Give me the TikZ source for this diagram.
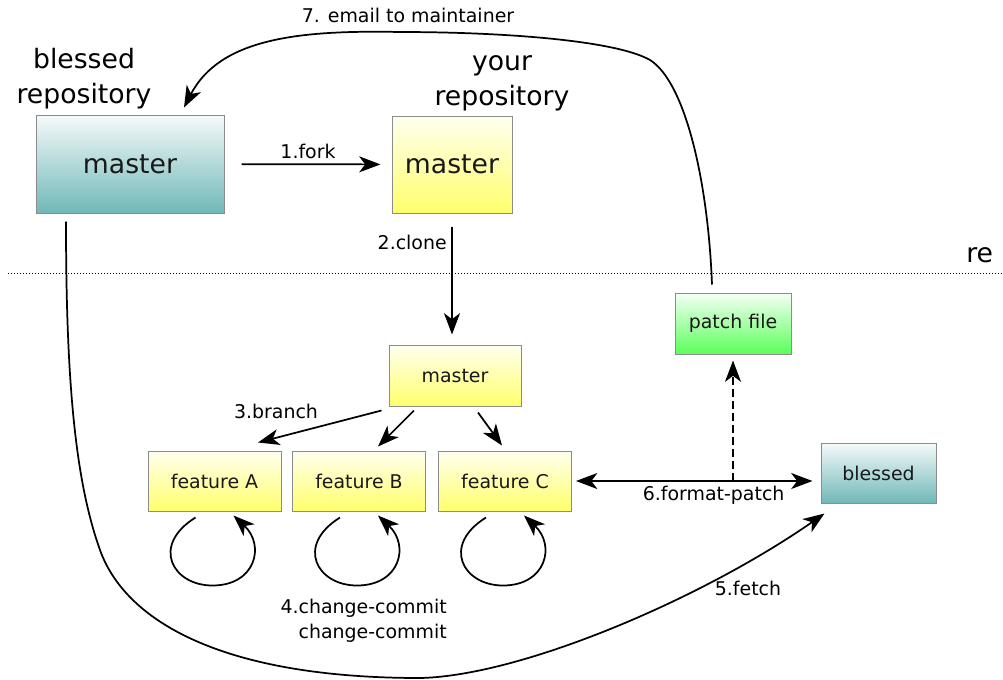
\documentclass[tikz,border=0pt]{standalone}
\usepackage{fontspec}
\setmainfont{DejaVu Sans}
\usetikzlibrary{arrows.meta}

\begin{document}
\begin{tikzpicture}[x=0.75pt,y=-0.75pt,
    big/.style={font=\fontsize{20}{26.25}\selectfont},
    small/.style={font=\fontsize{14.2}{18.75}\selectfont},
    box/.style={draw=black!45,line width=0.75pt,inner sep=0pt,text=black!90},
    teal/.style={box,top color=white!96!teal,bottom color=teal!56},
    yell/.style={box,top color=yellow!6,bottom color=yellow!58},
    green/.style={box,top color=green!4,bottom color=green!65},
    arr/.style={line width=1.3pt,-{Stealth[length=16pt,width=12pt,inset=4.5pt]}},
    arrs/.style={line width=1.3pt,{Stealth[length=16pt,width=12pt,inset=4.5pt]}-{Stealth[length=16pt,width=12pt,inset=4.5pt]}}]
    \useasboundingbox (0,0) rectangle (1003,679);

    % 绘制分隔线
    \draw[line width=0.75pt,dash pattern=on 0.75pt off 1.5pt] (8,273) -- (1003,273);
    \node[big,anchor=base west,inner sep=0pt] (re) at (966,262) {re};

    % 绘制两个仓库
    \node[big,align=center] (blessedlbl) at (84,79) {blessed\\repository};
    \node[big,align=center] (yourlbl) at (502,83) {your\\repository};
    \node[teal,big,minimum width=141pt,minimum height=73.5pt] (bmaster) at (130,164) {master};
    \node[yell,big,minimum width=90pt,minimum height=72.75pt] (ymaster) at (452,164.5) {master};

    % 绘制本地分支
    \node[yell,small,minimum width=99pt,minimum height=45.75pt] (lmaster) at (455,375.5) {master};
    \node[yell,small,minimum width=99.75pt,minimum height=45pt] (featA) at (214.5,481) {feature A};
    \node[yell,small,minimum width=99.75pt,minimum height=45pt] (featB) at (359,481) {feature B};
    \node[yell,small,minimum width=99.75pt,minimum height=45pt] (featC) at (505,481) {feature C};
    \node[green,small,minimum width=87pt,minimum height=45.75pt] (patch) at (733,323.5) {patch file};
    \node[teal,small,minimum width=86.25pt,minimum height=45pt] (rblessed) at (878.5,473) {blessed};

    % 1. fork 和 2. clone
    \draw[arr,shorten <=12.75pt,shorten >=8.25pt] (bmaster) -- node[small,above] (fork) {1.fork} (ymaster);
    \draw[arr,shorten <=9.75pt,shorten >=7.5pt] (ymaster.south) -- node[small,pos=0.22,left] (clone) {2.clone} (ymaster.south |- lmaster.north);

    % 3. branch
    \draw[arr] ([shift={(-7,4)}]lmaster.south west) -- ([shift={(43.5,-8)}]featA.north);
    \draw[arr] ([shift={(-41,4)}]lmaster.south) -- ([shift={(19,-4)}]featB.north);
    \draw[arr] ([shift={(23,6)}]lmaster.south) -- ([shift={(-3,-5)}]featC.north);
    \node[small] (branch) at (276,411) {3.branch};

    % 4. change-commit 循环
    \foreach \f in {featA,featB,featC}
        \draw[arr] ([shift={(-19,6)}]\f.south) .. controls +(-45,28) and +(-40,0) .. ([shift={(-2,74)}]\f.south)
            .. controls +(43,0) and +(32,30) .. ([shift={(19,4)}]\f.south);
    \node[small,align=right,anchor=east,inner sep=0pt] (commit) at (447,620.5) {4.change-commit\\change-commit};

    % 5. fetch
    \draw[arr] ([shift={(-64,8)}]bmaster.south) .. controls (66,380) and (75,480) .. (100,550)
        .. controls (125,620) and (220,678) .. (420,678)
        .. controls (520,676) and (700,600) .. ([shift={(4,10)}]rblessed.south west);
    \node[small] (fetch) at (748,588) {5.fetch};

    % 6. format-patch
    \draw[arrs,shorten <=3pt,shorten >=6pt] (featC.east) -- node[small,pos=0.57,below] (fmt) {6.format-patch} (featC.east -| rblessed.west);
    \draw[arr,dash pattern=on 6pt off 3pt,shorten >=4.5pt] (patch.south |- featC.east) -- (patch.south);

    % 7. email
    \draw[arr] ([shift={(-21,-8)}]patch.north) .. controls (708,180) and (685,82) .. (650,60)
        .. controls (615,40) and (500,32) .. (400,32)
        .. controls (300,30) and (220,38) .. ([shift={(54,-7)}]bmaster.north);
    \node[small] (email) at (408,15) {7. email to maintainer};
\end{tikzpicture}
\end{document}
